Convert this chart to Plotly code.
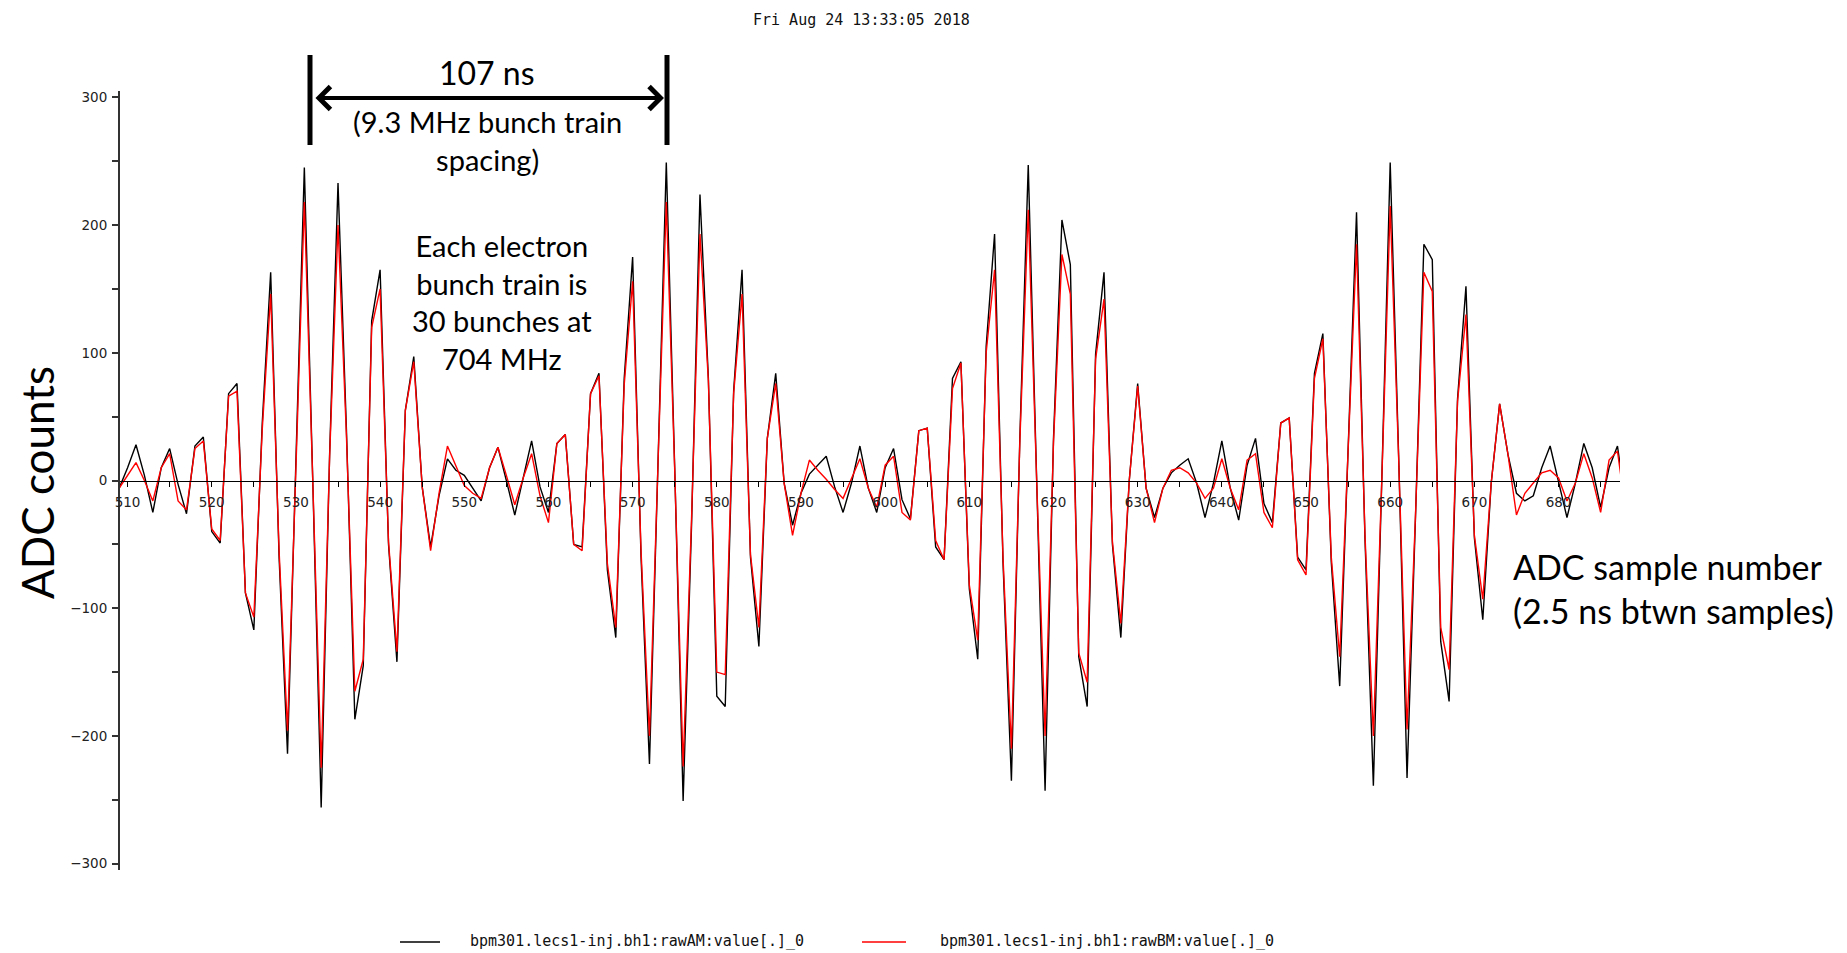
import plotly.graph_objects as go

# ---------------- data ----------------
samples = list(range(509, 689))

raw_am = [
    -6, 10, 28, 4, -25, 10, 25, -3, -26, 27,
    34, -40, -49, 68, 76, -88, -117, 45, 163, -60,
    -214, 10, 245, 0, -256, 20, 233, 40, -187, -145,
    125, 165, -50, -142, 55, 97, -5, -52, -12, 17,
    8, 4, -6, -16, 10, 26, 0, -27, 2, 31,
    -5, -25, 29, 36, -50, -52, 68, 84, -70, -123,
    80, 175, -60, -222, 10, 249, 10, -251, -35, 224,
    80, -169, -177, 70, 165, -60, -130, 33, 84, -2,
    -35, -10, 5, 12, 19, -5, -25, -2, 27, -6,
    -25, 10, 25, -15, -30, 39, 41, -52, -62, 80,
    93, -85, -140, 105, 193, -64, -235, 33, 247, 0,
    -243, 33, 204, 169, -138, -177, 99, 163, -50, -123,
    0, 76, -6, -29, -6, 6, 12, 17, -2, -29,
    -2, 31, -6, -31, 12, 33, -18, -33, 45, 49,
    -60, -70, 84, 115, -64, -161, 20, 210, -45, -239,
    0, 249, 20, -233, -30, 185, 173, -126, -173, 64,
    152, -45, -109, -2, 60, 20, -10, -16, -12, 10,
    27, -2, -29, -2, 29, 10, -21, 10, 27, -20,
]

raw_bm = [
    -6, 4, 14, 0, -16, 10, 21, -16, -23, 25,
    31, -38, -47, 66, 70, -88, -107, 40, 146, -55,
    -196, 10, 218, 0, -225, 18, 200, 35, -165, -140,
    120, 150, -48, -134, 55, 93, -5, -55, -10, 27,
    12, -4, -10, -14, 10, 26, 4, -19, 2, 21,
    -12, -33, 29, 36, -50, -55, 68, 82, -65, -115,
    75, 156, -55, -200, 10, 218, 8, -224, -30, 193,
    78, -150, -152, 68, 146, -58, -115, 33, 76, -2,
    -43, -10, 16, 8, 1, -7, -14, 2, 17, -6,
    -21, 12, 19, -25, -31, 39, 41, -47, -62, 72,
    92, -82, -125, 100, 165, -60, -210, 30, 212, 0,
    -200, 30, 177, 146, -135, -158, 95, 142, -48, -112,
    0, 74, -6, -33, -6, 8, 10, 6, -2, -14,
    -6, 17, -6, -23, 16, 21, -25, -37, 45, 49,
    -62, -74, 80, 111, -60, -138, 20, 185, -42, -200,
    0, 215, 18, -195, -28, 163, 148, -115, -148, 62,
    130, -43, -93, -2, 60, 20, -27, -10, -2, 6,
    8, 2, -16, -2, 21, 2, -25, 16, 23, -25,
]

x_tick_vals = list(range(510, 690, 10))
y_tick_vals = [-300, -200, -100, 0, 100, 200, 300]
series_names = ["bpm301.lecs1-inj.bh1:rawAM:value[.]_0",
                "bpm301.lecs1-inj.bh1:rawBM:value[.]_0"]
series_colors = ["#000000", "#ff0000"]
timestamp = "Fri Aug 24 13:33:05 2018"

# ---------------- layout geometry (pixels) ----------------
W, H = 1847, 953
L, R, T, B = 120, 1620, 91, 870


def xp(px):
    return (px - L) / (R - L)


def yp(py):
    return (B - py) / (B - T)


fig = go.Figure()
for vals, name, col in zip([raw_am, raw_bm], series_names, series_colors):
    fig.add_trace(go.Scatter(x=samples, y=vals, mode="lines", name=name,
                             line=dict(color=col, width=1.4), showlegend=False))

tick_font = dict(family="DejaVu Sans", size=13.5, color="#222222")

fig.update_layout(
    width=W, height=H,
    margin=dict(l=L, r=W - R, t=T, b=H - B, pad=0),
    paper_bgcolor="white", plot_bgcolor="white",
    xaxis=dict(range=[509.1, 687.3], anchor="free", position=0.5,
               showline=True, linecolor="#000000", linewidth=1.2,
               showgrid=False, zeroline=False,
               tickmode="array", tickvals=x_tick_vals,
               ticks="outside", ticklen=5, tickcolor="#000000", tickwidth=1.2,
               ticklabelstandoff=4,
               minor=dict(dtick=5, tick0=510, ticks="outside", ticklen=5,
                          tickcolor="#000000", tickwidth=1.2),
               tickfont=tick_font),
    yaxis=dict(range=[-305, 305], showline=True, linecolor="#333333", linewidth=2,
               showgrid=False, zeroline=False,
               tickmode="array", tickvals=y_tick_vals,
               ticks="outside", ticklen=6, tickcolor="#333333", tickwidth=1.5,
               minor=dict(dtick=50, tick0=0, ticks="outside", ticklen=6,
                          tickcolor="#333333", tickwidth=1.5),
               ticklabelstandoff=2,
               tickfont=tick_font),
)


def label(text, x, y, size, family="Lato", xanchor="center", align="center",
          angle=0, color="#000000"):
    return dict(text=text, x=xp(x), y=yp(y), xref="paper", yref="paper",
                xanchor=xanchor, yanchor="middle", align=align, showarrow=False,
                textangle=angle, font=dict(family=family, size=size, color=color))


ann = [
    label(timestamp, 861, 20, 15, family="DejaVu Sans Mono", color="#111111"),
    label("ADC counts", 37, 483, 44, angle=-90),
    label("107 ns", 487, 73, 32),
    label("(9.3 MHz bunch train<br>spacing)", 487, 140, 29),
    label("Each electron<br>bunch train is<br>30 bunches at<br>704 MHz", 502, 302, 29),
    label("ADC sample number<br>(2.5 ns btwn samples)", 1511, 588, 34,
          xanchor="left", align="left"),
    label(series_names[0], 468, 941, 15, family="DejaVu Sans Mono",
          xanchor="left", align="left", color="#111111"),
    label(series_names[1], 938, 941, 15, family="DejaVu Sans Mono",
          xanchor="left", align="left", color="#111111"),
]
# double-headed arrow
ann.append(dict(text="", x=xp(664), y=yp(98), xref="paper", yref="paper",
                ax=-350, ay=0, axref="pixel", ayref="pixel",
                showarrow=True, arrowside="end+start", arrowhead=4, startarrowhead=4,
                arrowwidth=4, arrowsize=1.1, startarrowsize=1.1, arrowcolor="#000000",
                standoff=0, startstandoff=0))
fig.update_layout(annotations=ann)

shapes = []
for bx in (310, 667):
    shapes.append(dict(type="line", xref="paper", yref="paper",
                       x0=xp(bx), x1=xp(bx), y0=yp(55), y1=yp(145),
                       line=dict(color="#000000", width=5)))
shapes.append(dict(type="line", xref="paper", yref="paper",
                   x0=xp(400), x1=xp(440), y0=yp(942), y1=yp(942),
                   line=dict(color=series_colors[0], width=1.3)))
shapes.append(dict(type="line", xref="paper", yref="paper",
                   x0=xp(862), x1=xp(906), y0=yp(942), y1=yp(942),
                   line=dict(color=series_colors[1], width=1.3)))
fig.update_layout(shapes=shapes)

fig.write_html("out.html")
